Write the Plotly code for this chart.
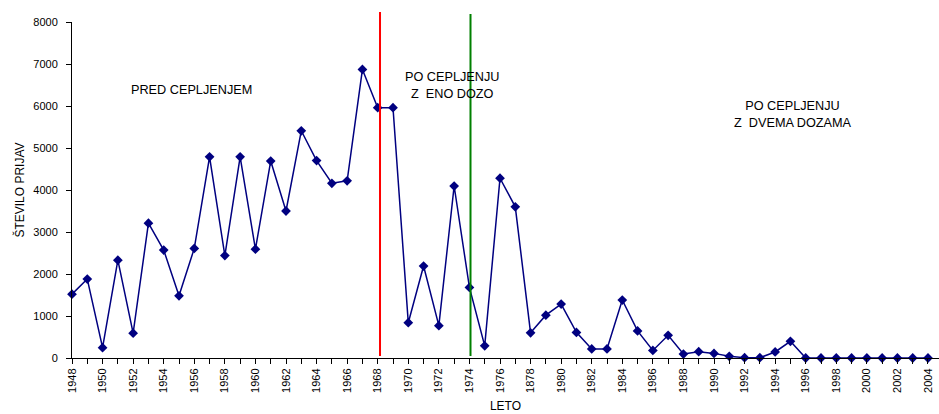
import plotly.graph_objects as go

years = list(range(1948, 2005))
cases = [1520, 1880, 245, 2330, 590, 3210, 2570, 1480, 2610, 4790,
         2440, 4790, 2590, 4690, 3500, 5410, 4700, 4160, 4220, 6870,
         5960, 5960, 840, 2190, 770, 4095, 1680, 290, 4280, 3600,
         600, 1020, 1285, 610, 215, 215, 1380, 645, 180, 540,
         95, 150, 110, 40, 8, 8, 143, 397, 0, 0,
         0, 0, 0, 0, 0, 0, 0]
tick_vals = list(range(1948, 2005, 2))
tick_text = [("1878" if y == 1978 else str(y)) for y in tick_vals]
one_dose_year = 1968.15
two_dose_year = 1974.07

font = "Liberation Sans, Arial, sans-serif"

fig = go.Figure()
fig.add_trace(go.Scatter(
    x=years, y=cases, mode="lines+markers",
    line=dict(color="#000080", width=1.5),
    marker=dict(symbol="diamond", size=7.5, color="#000080"),
    showlegend=False, cliponaxis=False,
))

fig.add_shape(type="line", xref="x", yref="paper", x0=one_dose_year, x1=one_dose_year,
              y0=0.006, y1=1.03, line=dict(color="#ff0000", width=2))
fig.add_shape(type="line", xref="x", yref="paper", x0=two_dose_year, x1=two_dose_year,
              y0=0.006, y1=1.024, line=dict(color="#008000", width=2))

ann_font = dict(family=font, size=12.7, color="#000000")
fig.add_annotation(x=1955.85, y=6380, xref="x", yref="y", text="PRED CEPLJENJEM",
                   showarrow=False, font=ann_font)
fig.add_annotation(x=1972.85, y=6480, xref="x", yref="y", text="PO CEPLJENJU<br>Z  ENO DOZO",
                   showarrow=False, font=ann_font, align="center")
fig.add_annotation(x=1995.15, y=5790, xref="x", yref="y", text="PO CEPLJENJU<br>Z  DVEMA DOZAMA",
                   showarrow=False, font=ann_font, align="center")

fig.update_layout(
    width=939, height=414,
    margin=dict(l=72, r=0, t=22, b=56),
    plot_bgcolor="white", paper_bgcolor="white",
    font=dict(family=font, size=11, color="#000000"),
)
fig.update_xaxes(
    range=[1948, 2004.72], tickmode="array", tickvals=tick_vals, ticktext=tick_text,
    tickangle=-90, ticks="outside", ticklen=5, tickcolor="black",
    minor=dict(dtick=1, tick0=1948, ticks="outside", ticklen=5, tickcolor="black"),
    showline=True, linecolor="black", linewidth=1, showgrid=False, zeroline=False,
    title=dict(text="LETO", font=dict(size=12), standoff=9),
    tickfont=dict(size=11),
)
fig.update_yaxes(
    range=[0, 8000], dtick=1000, ticks="outside", ticklen=5, tickcolor="black",
    showline=True, linecolor="black", linewidth=1, showgrid=False, zeroline=False,
    title=dict(text="ŠTEVILO PRIJAV", font=dict(size=12), standoff=6),
    tickfont=dict(size=11), ticklabelstandoff=6,
)

fig.write_html("out.html")
